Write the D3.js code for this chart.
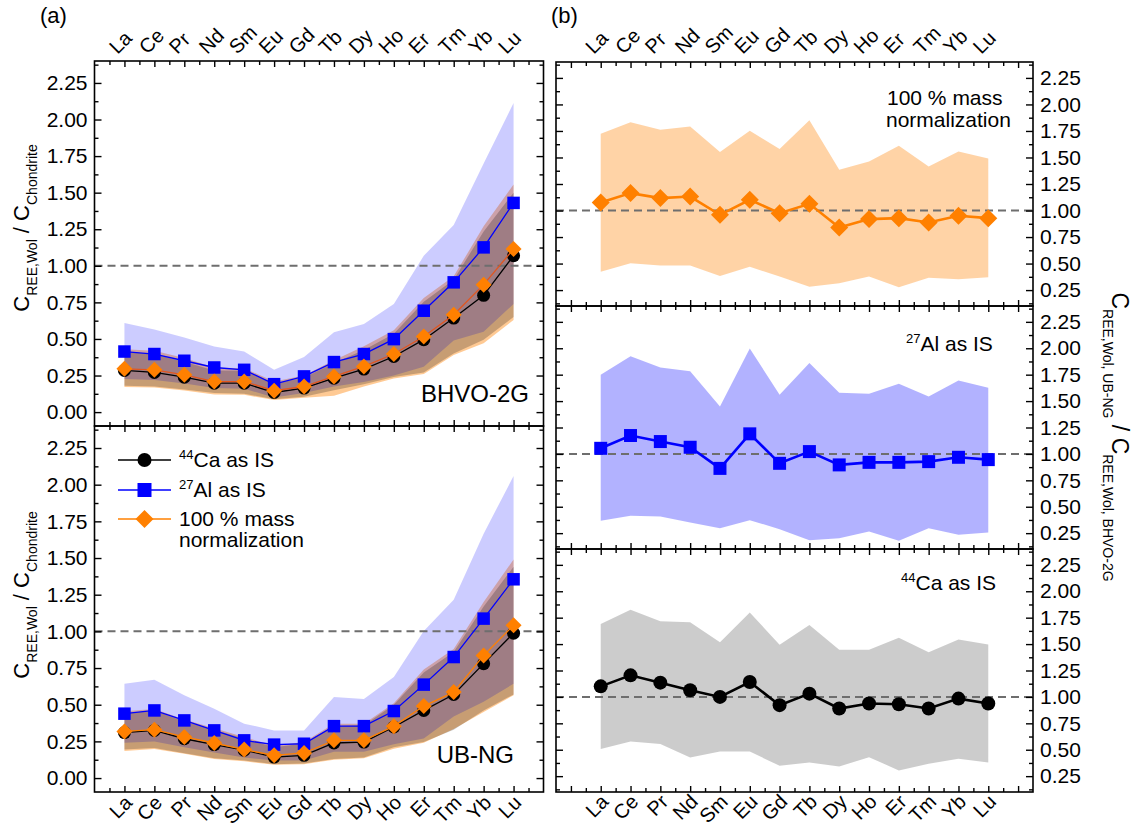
<!DOCTYPE html>
<html>
<head>
<meta charset="utf-8">
<script src="https://cdn.jsdelivr.net/npm/d3@7"></script>
<style>
  body { margin: 0; background: #fff; }
  text { font-family: "Liberation Sans", Arial, sans-serif; fill: #000; }
</style>
</head>
<body>
<svg id="fig" width="1135" height="832"></svg>
<script>
// Rare earth elements in order of atomic number
const elements = ["La","Ce","Pr","Nd","Sm","Eu","Gd","Tb","Dy","Ho","Er","Tm","Yb","Lu"];

// (a) chondrite-normalized wollastonite REE, BHVO-2G calibration
const bhvoCa     = [0.285,0.271,0.239,0.198,0.198,0.134,0.164,0.232,0.294,0.380,0.495,0.643,0.798,1.069];
const bhvoCaLo   = [0.180,0.175,0.155,0.130,0.125,0.088,0.105,0.150,0.190,0.240,0.270,0.400,0.495,0.650];
const bhvoCaHi   = [0.415,0.395,0.345,0.285,0.282,0.195,0.235,0.335,0.425,0.535,0.755,0.905,1.235,1.500];
const bhvoAl     = [0.414,0.397,0.351,0.305,0.289,0.191,0.244,0.342,0.397,0.499,0.693,0.887,1.126,1.430];
const bhvoAlLo   = [0.226,0.220,0.195,0.165,0.160,0.100,0.130,0.175,0.205,0.250,0.310,0.490,0.550,0.739];
const bhvoAlHi   = [0.609,0.565,0.510,0.449,0.414,0.289,0.376,0.545,0.602,0.739,1.069,1.279,1.700,2.113];
const bhvoMass   = [0.296,0.289,0.255,0.209,0.209,0.146,0.175,0.244,0.312,0.397,0.517,0.666,0.871,1.115];
const bhvoMassLo = [0.171,0.168,0.148,0.120,0.118,0.082,0.098,0.112,0.175,0.230,0.260,0.390,0.470,0.630];
const bhvoMassHi = [0.430,0.420,0.370,0.305,0.300,0.210,0.250,0.355,0.450,0.560,0.780,0.928,1.270,1.555];

// (a) chondrite-normalized wollastonite REE, UB-NG calibration
const ubCa     = [0.310,0.325,0.268,0.228,0.190,0.143,0.155,0.239,0.245,0.348,0.461,0.570,0.780,0.988];
const ubCaLo   = [0.195,0.205,0.170,0.135,0.120,0.095,0.100,0.130,0.140,0.210,0.245,0.330,0.460,0.570];
const ubCaHi   = [0.440,0.460,0.385,0.330,0.270,0.210,0.235,0.355,0.360,0.500,0.720,0.860,1.170,1.440];
const ubAl     = [0.439,0.461,0.393,0.325,0.257,0.228,0.234,0.354,0.354,0.457,0.637,0.825,1.087,1.355];
const ubAlLo   = [0.240,0.250,0.210,0.175,0.140,0.120,0.120,0.180,0.180,0.230,0.270,0.420,0.520,0.643];
const ubAlHi   = [0.643,0.671,0.564,0.473,0.371,0.325,0.325,0.552,0.539,0.689,1.002,1.216,1.666,2.059];
const ubMass   = [0.318,0.330,0.280,0.239,0.194,0.155,0.171,0.257,0.257,0.354,0.491,0.586,0.836,1.041];
const ubMassLo = [0.185,0.198,0.165,0.130,0.115,0.090,0.095,0.125,0.135,0.200,0.240,0.335,0.450,0.565];
const ubMassHi = [0.455,0.470,0.400,0.340,0.280,0.220,0.245,0.370,0.370,0.510,0.740,0.880,1.200,1.490];

// (b) ratio UB-NG / BHVO-2G calibrated results
const ratioMass   = [1.076,1.164,1.117,1.132,0.959,1.101,0.975,1.063,0.839,0.919,0.928,0.887,0.950,0.928];
const ratioMassLo = [0.424,0.503,0.481,0.481,0.383,0.471,0.377,0.282,0.314,0.377,0.277,0.367,0.352,0.371];
const ratioMassHi = [1.724,1.831,1.762,1.793,1.551,1.753,1.580,1.850,1.384,1.463,1.611,1.415,1.557,1.491];
const ratioAl     = [1.053,1.174,1.117,1.063,0.863,1.190,0.911,1.022,0.896,0.920,0.920,0.927,0.968,0.946];
const ratioAlLo   = [0.367,0.414,0.408,0.350,0.297,0.373,0.288,0.183,0.202,0.265,0.177,0.297,0.234,0.256];
const ratioAlHi   = [1.750,1.924,1.817,1.782,1.449,1.997,1.560,1.860,1.579,1.570,1.665,1.544,1.696,1.627];
const ratioCa     = [1.100,1.204,1.135,1.063,1.000,1.141,0.922,1.031,0.890,0.937,0.931,0.890,0.984,0.937];
const ratioCaLo   = [0.508,0.577,0.555,0.426,0.483,0.483,0.348,0.379,0.341,0.430,0.304,0.367,0.414,0.379];
const ratioCaHi   = [1.690,1.825,1.715,1.706,1.517,1.800,1.493,1.681,1.446,1.446,1.559,1.423,1.543,1.496];

// Axis tick values
const leftMajor  = [0,0.25,0.5,0.75,1,1.25,1.5,1.75,2,2.25];
const leftMinor  = [0.125,0.375,0.625,0.875,1.125,1.375,1.625,1.875,2.125,2.375];
const rightMajor = [0.25,0.5,0.75,1,1.25,1.5,1.75,2,2.25];
const rightMinor = [0.125,0.375,0.625,0.875,1.125,1.375,1.625,1.875,2.125,2.375];

const svg = d3.select("#fig");
const idx = d3.range(elements.length);
const FONT = "Liberation Sans, Arial, sans-serif";

function symbolPath(shape, size) {
  if (shape === "circle") return d3.symbol(d3.symbolCircle, Math.PI * size * size)();
  if (shape === "square") return d3.symbol(d3.symbolSquare, size * size)();
  // diamond: half-diagonal = size
  return `M0,${-size}L${size},0L0,${size}L${-size},0Z`;
}

function label(parent, size) {
  return parent.append("text")
    .attr("font-family", FONT).attr("font-size", size)
    .style("font-size", size + "px");
}

// element name slanted up-right at 45 degrees, anchored at (ax, ay)
function slanted(ax, ay, anchor, str) {
  label(svg, 20)
    .attr("transform", `translate(${ax},${ay}) rotate(-45)`)
    .attr("text-anchor", anchor)
    .text(str);
}

function drawPanel(p) {
  const x = d3.scaleLinear().domain(p.xDomain).range([p.x0, p.x1]);
  const y = d3.scaleLinear().domain(p.yDomain).range([p.y1, p.y0]);
  const g = svg.append("g");

  // uncertainty bands
  p.bands.forEach(b => {
    const area = d3.area().x(i => x(i)).y0(i => y(b.lo[i])).y1(i => y(b.hi[i]));
    g.append("path").attr("d", area(idx))
      .attr("fill", b.color).attr("fill-opacity", b.opacity).attr("stroke", "none");
  });

  // reference line at unity
  g.append("line")
    .attr("x1", p.x0).attr("x2", p.x1)
    .attr("y1", y(1)).attr("y2", y(1))
    .attr("stroke", "#6e6e6e").attr("stroke-width", 2).attr("stroke-dasharray", "8,5");

  // series
  p.series.forEach(s => {
    const line = d3.line().x(i => x(i)).y(i => y(s.values[i]));
    g.append("path").attr("d", line(idx))
      .attr("fill", "none").attr("stroke", s.lineColor || s.color).attr("stroke-width", s.lineWidth);
    g.selectAll(null).data(idx).enter().append("path")
      .attr("d", symbolPath(s.shape, s.size))
      .attr("transform", i => `translate(${x(i)},${y(s.values[i])})`)
      .attr("fill", s.color);
  });

  // axes with inward ticks on all four sides
  const xMajor = idx.slice();
  const xMinor = d3.range(p.xDomain[0], p.xDomain[1], 0.5)
    .filter(v => !Number.isInteger(v) && v > p.xDomain[0] && v < p.xDomain[1]);
  if (p.xDomain[0] < -1) xMajor.unshift(-1);
  if (p.xDomain[1] > 14) xMajor.push(14);

  const addAxis = (axis, transform) => {
    const a = g.append("g").attr("transform", transform).call(axis)
      .attr("font-size", 21).attr("font-family", FONT);
    a.select(".domain").remove();
    a.selectAll(".tick line").attr("stroke", "#000").attr("stroke-width", 1.4);
    a.selectAll(".tick text").attr("font-size", 21).style("font-size", "21px").attr("fill", "#000");
    return a;
  };
  const none = () => "";
  addAxis(d3.axisTop(x).tickValues(xMajor).tickSize(-6).tickFormat(none), `translate(0,${p.y0})`);
  addAxis(d3.axisTop(x).tickValues(xMinor).tickSize(-4).tickFormat(none), `translate(0,${p.y0})`);
  addAxis(d3.axisBottom(x).tickValues(xMajor).tickSize(-6).tickFormat(none), `translate(0,${p.y1})`);
  addAxis(d3.axisBottom(x).tickValues(xMinor).tickSize(-4).tickFormat(none), `translate(0,${p.y1})`);

  const major = p.yMajor, minor = p.yMinor.filter(v => v > p.yDomain[0] && v < p.yDomain[1]);
  const fmt = d3.format(".2f");
  addAxis(d3.axisLeft(y).tickValues(major).tickSize(-7).tickPadding(7)
    .tickFormat(p.labelSide === "left" ? fmt : none), `translate(${p.x0},0)`);
  addAxis(d3.axisLeft(y).tickValues(minor).tickSize(-4).tickFormat(none), `translate(${p.x0},0)`);
  addAxis(d3.axisRight(y).tickValues(major).tickSize(-7).tickPadding(7)
    .tickFormat(p.labelSide === "right" ? fmt : none), `translate(${p.x1},0)`);
  addAxis(d3.axisRight(y).tickValues(minor).tickSize(-4).tickFormat(none), `translate(${p.x1},0)`);

  // frame
  g.append("rect").attr("x", p.x0).attr("y", p.y0)
    .attr("width", p.x1 - p.x0).attr("height", p.y1 - p.y0)
    .attr("fill", "none").attr("stroke", "#000").attr("stroke-width", 1.6);

  // element labels
  if (p.topLabels) idx.forEach(i => slanted(x(i) - 7, 55, "start", elements[i]));
  if (p.bottomLabels) idx.forEach(i => slanted(x(i) + 9, p.bottomLabelY, "end", elements[i]));
  return { x, y };
}

const colBlack = "#000000", colBlue = "#0000ff", colOrange = "#ff8000";

// ---------- (a) left column ----------
const leftX0 = 94.5, leftX1 = 543.5;
const leftDomain = [-0.095, 2.4];

function leftBands(caLo, caHi, alLo, alHi, mLo, mHi) {
  return [
    { lo: mLo, hi: mHi, color: colOrange, opacity: 0.42 },
    { lo: alLo, hi: alHi, color: colBlue, opacity: 0.2 },
    { lo: caLo, hi: caHi, color: colBlack, opacity: 0.22 }
  ];
}

drawPanel({
  x0: leftX0, x1: leftX1, y0: 61, y1: 426, xDomain: [-1, 14], yDomain: leftDomain,
  yMajor: leftMajor, yMinor: leftMinor, labelSide: "left", topLabels: true,
  bands: leftBands(bhvoCaLo, bhvoCaHi, bhvoAlLo, bhvoAlHi, bhvoMassLo, bhvoMassHi),
  series: [
    { values: bhvoCa, color: colBlack, shape: "circle", size: 6.5, lineWidth: 1.3 },
    { values: bhvoAl, color: colBlue, shape: "square", size: 12.5, lineWidth: 1.3 },
    { values: bhvoMass, color: colOrange, lineColor: "#e2561f", shape: "diamond", size: 8, lineWidth: 1.3 }
  ]
});

drawPanel({
  x0: leftX0, x1: leftX1, y0: 426, y1: 792, xDomain: [-1, 14], yDomain: leftDomain,
  yMajor: leftMajor, yMinor: leftMinor, labelSide: "left", bottomLabels: true, bottomLabelY: 804,
  bands: leftBands(ubCaLo, ubCaHi, ubAlLo, ubAlHi, ubMassLo, ubMassHi),
  series: [
    { values: ubCa, color: colBlack, shape: "circle", size: 6.5, lineWidth: 1.3 },
    { values: ubAl, color: colBlue, shape: "square", size: 12.5, lineWidth: 1.3 },
    { values: ubMass, color: colOrange, shape: "diamond", size: 8, lineWidth: 1.3 }
  ]
});

// ---------- (b) right column ----------
const rightX0 = 556, rightX1 = 1033;
const rightDomain = [0.1, 2.4];

drawPanel({
  x0: rightX0, x1: rightX1, y0: 62, y1: 306, xDomain: [-1.5, 14.5], yDomain: rightDomain,
  yMajor: rightMajor, yMinor: rightMinor, labelSide: "right", topLabels: true,
  bands: [{ lo: ratioMassLo, hi: ratioMassHi, color: colOrange, opacity: 0.35 }],
  series: [{ values: ratioMass, color: colOrange, shape: "diamond", size: 9, lineWidth: 2.6 }]
});

drawPanel({
  x0: rightX0, x1: rightX1, y0: 306, y1: 549, xDomain: [-1.5, 14.5], yDomain: rightDomain,
  yMajor: rightMajor, yMinor: rightMinor, labelSide: "right",
  bands: [{ lo: ratioAlLo, hi: ratioAlHi, color: colBlue, opacity: 0.3 }],
  series: [{ values: ratioAl, color: colBlue, shape: "square", size: 13, lineWidth: 2.6 }]
});

drawPanel({
  x0: rightX0, x1: rightX1, y0: 549, y1: 792, xDomain: [-1.5, 14.5], yDomain: rightDomain,
  yMajor: rightMajor, yMinor: rightMinor, labelSide: "right", bottomLabels: true, bottomLabelY: 803,
  bands: [{ lo: ratioCaLo, hi: ratioCaHi, color: colBlack, opacity: 0.2 }],
  series: [{ values: ratioCa, color: colBlack, shape: "circle", size: 7, lineWidth: 2.6 }]
});

// ---------- text annotations ----------
label(svg, 22).attr("x", 40).attr("y", 23).text("(a)");
label(svg, 22).attr("x", 551).attr("y", 23).text("(b)");

label(svg, 24).attr("x", 529).attr("y", 402).attr("text-anchor", "end").text("BHVO-2G");
label(svg, 24).attr("x", 514).attr("y", 763).attr("text-anchor", "end").text("UB-NG");

// y-axis title of (a), one per panel
function leftTitle(cy) {
  const t = label(svg, 22)
    .attr("transform", `translate(29,${cy}) rotate(-90)`)
    .attr("text-anchor", "middle");
  t.append("tspan").text("C");
  t.append("tspan").attr("dy", 8).attr("font-size", 14).style("font-size", "14px").text("REE,Wol");
  t.append("tspan").attr("dy", -8).text(" / C");
  t.append("tspan").attr("dy", 8).attr("font-size", 14).style("font-size", "14px").text("Chondrite");
}
leftTitle(228);
leftTitle(595);

// y-axis title of (b)
{
  const t = label(svg, 23)
    .attr("transform", `translate(1112,437) rotate(90)`)
    .attr("text-anchor", "middle");
  t.append("tspan").text("C");
  t.append("tspan").attr("dy", 9).attr("font-size", 14).style("font-size", "14px").text("REE,Wol, UB-NG");
  t.append("tspan").attr("dy", -9).text(" / C");
  t.append("tspan").attr("dy", 9).attr("font-size", 14).style("font-size", "14px").text("REE,Wol, BHVO-2G");
}

// panel captions in (b)
function isotopeLabel(xp, yp, mass, rest) {
  const t = label(svg, 21).attr("x", xp).attr("y", yp);
  t.append("tspan").attr("dy", -8).attr("font-size", 13).style("font-size", "13px").text(mass);
  t.append("tspan").attr("dy", 8).text(rest);
  return t;
}
label(svg, 21).attr("x", 887).attr("y", 105).text("100 % mass");
label(svg, 21).attr("x", 886).attr("y", 127).text("normalization");
isotopeLabel(906, 351, "27", "Al as IS");
isotopeLabel(901, 590, "44", "Ca as IS");

// legend in lower (a) panel
const legendRows = [
  { y: 460, color: colBlack, shape: "circle", size: 7, mass: "44", text: "Ca as IS" },
  { y: 490, color: colBlue, shape: "square", size: 14, mass: "27", text: "Al as IS" },
  { y: 519, color: colOrange, shape: "diamond", size: 9, mass: "", text: "100 % mass" }
];
const leg = svg.append("g");
legendRows.forEach(r => {
  leg.append("line").attr("x1", 118).attr("x2", 171).attr("y1", r.y).attr("y2", r.y)
    .attr("stroke", r.color).attr("stroke-width", 1.3);
  leg.append("path").attr("d", symbolPath(r.shape, r.size))
    .attr("transform", `translate(144.5,${r.y})`).attr("fill", r.color);
  if (r.mass) {
    isotopeLabel(179, r.y + 7, r.mass, r.text);
  } else {
    label(leg, 21).attr("x", 179).attr("y", r.y + 7).text(r.text);
  }
});
label(leg, 21).attr("x", 179).attr("y", 547).text("normalization");
</script>
</body>
</html>
